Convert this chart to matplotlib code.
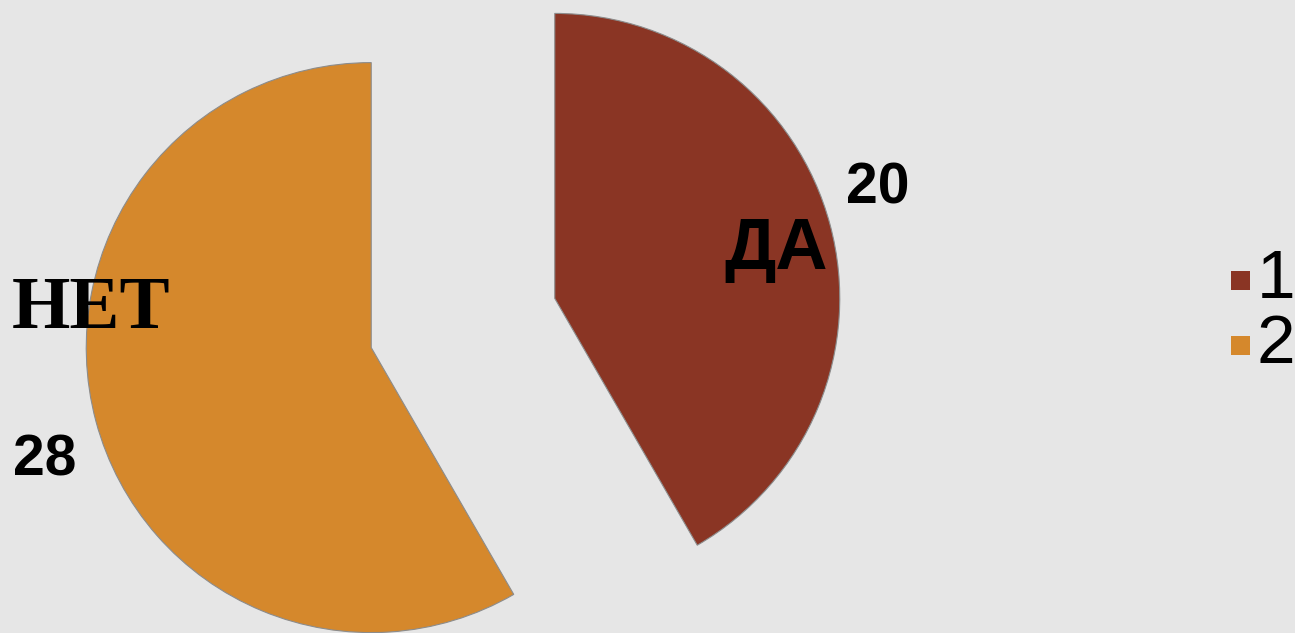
import matplotlib.pyplot as plt
from matplotlib.patches import Rectangle

# data
labels = ["1", "2"]
values = [20, 28]
names = ["ДА", "НЕТ"]
colors = ["#8A3524", "#D5882C"]

W, H = 1295, 633
fig = plt.figure(figsize=(W / 100, H / 100), dpi=100, facecolor="#E6E6E6")
ax = fig.add_axes([0, 0, 1, 1])

# exploded pie, starting at 12 o'clock going clockwise
# (explode is in data units here since radius is in pixels)
ax.pie(values, colors=colors, startangle=90, counterclock=False,
       center=(463, 310), radius=285, explode=[95, 95],
       wedgeprops=dict(edgecolor="#8c8c8c", linewidth=0.8))

# pie() resets the limits, so set the pixel frame afterwards
ax.set_xlim(0, W)
ax.set_ylim(0, H)
ax.set_aspect("equal")
ax.axis("off")

# slice names and values
sans = ["Liberation Sans", "DejaVu Sans"]
ax.text(776, 633 - 250, names[0], fontsize=52, fontweight="bold",
        family=sans, ha="center", va="center")
ax.text(878, 633 - 189, str(values[0]), fontsize=41, fontweight="bold",
        family=sans, ha="center", va="center")
ax.text(91, 633 - 310, names[1], fontsize=54, fontweight="bold",
        family=["Liberation Serif", "DejaVu Serif"], ha="center", va="center")
ax.text(45, 633 - 461, str(values[1]), fontsize=41, fontweight="bold",
        family=sans, ha="center", va="center")

# legend drawn by hand
for i, (lab, c) in enumerate(zip(labels, colors)):
    y = 633 - (280 + 65 * i)
    ax.add_patch(Rectangle((1231, y - 10), 19, 19, facecolor=c,
                           edgecolor="none"))
    ax.text(1257, y, lab, fontsize=50, family=sans, ha="left", va="center")

fig.savefig("out.png", dpi=100, facecolor=fig.get_facecolor())
